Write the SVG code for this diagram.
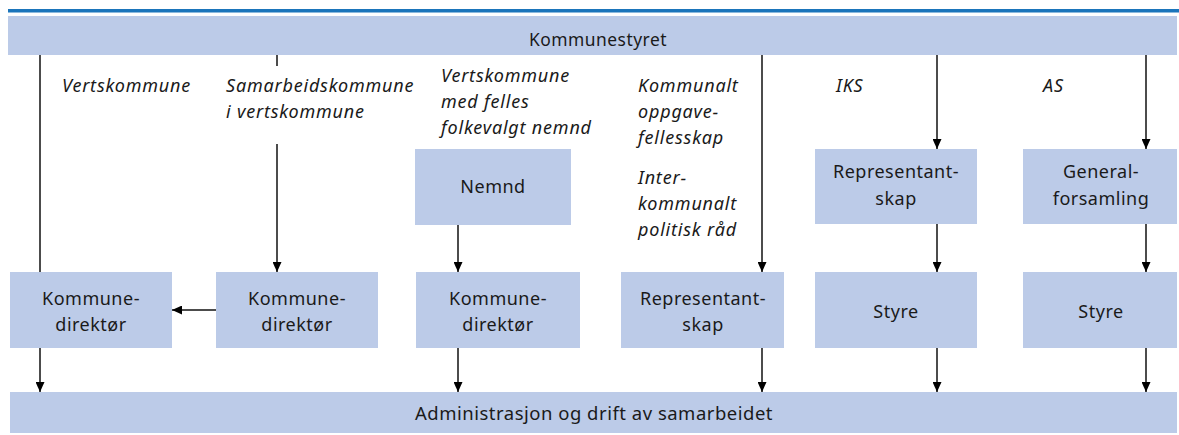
<svg xmlns="http://www.w3.org/2000/svg" width="1179" height="435" viewBox="0 0 1179 435">
<style>
.box{fill:#bccbe8;}
.t{font-family:"Noto Sans","DejaVu Sans",sans-serif;font-size:18px;letter-spacing:0.5px;fill:#1a1a1a;text-anchor:middle;}
.i{font-family:"Noto Sans","DejaVu Sans",sans-serif;font-size:18px;letter-spacing:0.8px;font-style:italic;fill:#1a1a1a;}
.c{fill:none;stroke:#111;stroke-width:1.5;}
.a{marker-end:url(#ah);}
</style>
<defs>
<marker id="ah" markerUnits="userSpaceOnUse" markerWidth="10" markerHeight="9" refX="10" refY="4.5" orient="auto">
<path d="M0,0 L10,4.5 L0,9 Z" fill="#000"/>
</marker>
</defs>
<rect width="1179" height="435" fill="#fff"/>
<rect x="8" y="9" width="1171" height="3.5" fill="#1b75bb"/>

<g id="kommunestyret">
<rect class="box" x="8" y="16" width="1169" height="39"/>
<text class="t" x="598" y="46" textLength="138" lengthAdjust="spacingAndGlyphs">Kommunestyret</text>
</g>

<g id="labels">
<text class="i" x="62" y="92">Vertskommune</text>
<text class="i" x="226" y="92">Samarbeidskommune</text>
<text class="i" x="226" y="118">i vertskommune</text>
<text class="i" x="441" y="82">Vertskommune</text>
<text class="i" x="441" y="108">med felles</text>
<text class="i" x="441" y="134">folkevalgt nemnd</text>
<text class="i" x="638" y="92">Kommunalt</text>
<text class="i" x="638" y="118">oppgave-</text>
<text class="i" x="638" y="144">fellesskap</text>
<text class="i" x="638" y="184">Inter-</text>
<text class="i" x="638" y="210">kommunalt</text>
<text class="i" x="638" y="236">politisk råd</text>
<text class="i" x="836" y="92">IKS</text>
<text class="i" x="1043" y="92">AS</text>
</g>

<g id="nemnd">
<rect class="box" x="415" y="149" width="156" height="76"/>
<text class="t" x="493" y="193">Nemnd</text>
</g>
<g id="representantskap-iks">
<rect class="box" x="815" y="149" width="162" height="75"/>
<text class="t" x="896" y="178">Representant-</text>
<text class="t" x="896" y="205">skap</text>
</g>
<g id="generalforsamling">
<rect class="box" x="1023" y="149" width="154" height="75"/>
<text class="t" x="1101" y="178">General-</text>
<text class="t" x="1101" y="205">forsamling</text>
</g>

<g id="kommunedirektor-1">
<rect class="box" x="10" y="272" width="162" height="76"/>
<text class="t" x="91" y="305">Kommune-</text>
<text class="t" x="91" y="331">direktør</text>
</g>
<g id="kommunedirektor-2">
<rect class="box" x="216" y="272" width="162" height="76"/>
<text class="t" x="297" y="305">Kommune-</text>
<text class="t" x="297" y="331">direktør</text>
</g>
<g id="kommunedirektor-3">
<rect class="box" x="416" y="272" width="164" height="76"/>
<text class="t" x="498" y="305">Kommune-</text>
<text class="t" x="498" y="331">direktør</text>
</g>
<g id="representantskap-kof">
<rect class="box" x="621" y="272" width="163" height="76"/>
<text class="t" x="703" y="305">Representant-</text>
<text class="t" x="703" y="331">skap</text>
</g>
<g id="styre-iks">
<rect class="box" x="815" y="272" width="162" height="76"/>
<text class="t" x="896" y="318">Styre</text>
</g>
<g id="styre-as">
<rect class="box" x="1023" y="272" width="154" height="76"/>
<text class="t" x="1101" y="318">Styre</text>
</g>

<g id="administrasjon">
<rect class="box" x="10" y="392" width="1167" height="41"/>
<text class="t" x="594" y="420" textLength="358" lengthAdjust="spacingAndGlyphs">Administrasjon og drift av samarbeidet</text>
</g>

<g id="connectors">
<path class="c" d="M40 55 V272"/>
<path class="c a" d="M40 348 V392"/>
<path class="c" d="M277 55 V66"/>
<path class="c a" d="M277 144 V272"/>
<path class="c a" d="M216 310 H172"/>
<path class="c a" d="M458 225 V272"/>
<path class="c a" d="M458 348 V392"/>
<path class="c a" d="M762 55 V272"/>
<path class="c a" d="M762 348 V392"/>
<path class="c a" d="M937 55 V149"/>
<path class="c a" d="M937 224 V272"/>
<path class="c a" d="M937 348 V392"/>
<path class="c a" d="M1146 55 V149"/>
<path class="c a" d="M1146 224 V272"/>
<path class="c a" d="M1146 348 V392"/>
</g>
</svg>
